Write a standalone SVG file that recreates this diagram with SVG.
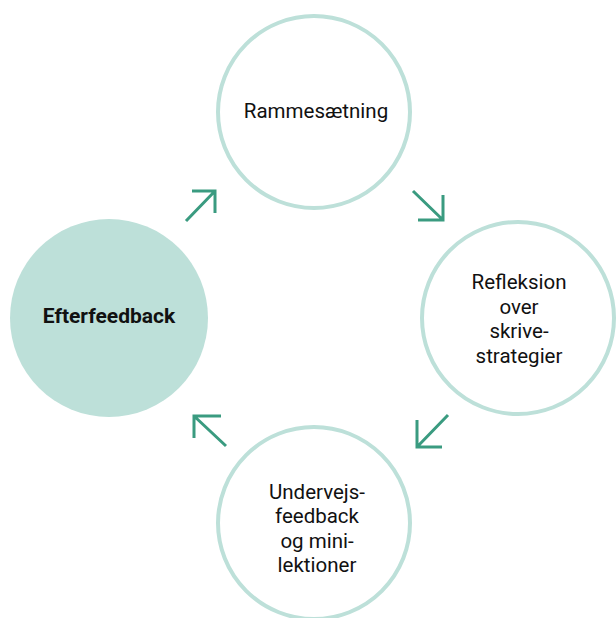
<svg xmlns="http://www.w3.org/2000/svg" width="616" height="618" viewBox="0 0 616 618">
<style>
.ring{fill:#ffffff;stroke:#bde0d9;stroke-width:4}
.filled{fill:#bde0d9;stroke:none}
.t{font-family:Roboto,"Noto Sans",sans-serif;font-size:20.5px;fill:#111;text-anchor:middle}
.b{font-family:Roboto,"Noto Sans",sans-serif;font-size:21px;font-weight:bold;fill:#111;text-anchor:middle}
.arr{fill:none;stroke:#3a9b80;stroke-width:3;stroke-linecap:butt;stroke-linejoin:miter}
</style>
<rect width="616" height="618" fill="#ffffff"/>
<g id="node-rammesaetning">
<circle class="ring" cx="314" cy="112" r="96"/>
<text class="t" x="316" y="118">Rammesætning</text>
</g>
<g id="node-refleksion">
<circle class="ring" cx="518" cy="318" r="96"/>
<text class="t" x="519" y="289">Refleksion</text>
<text class="t" x="519" y="313.5">over</text>
<text class="t" x="519" y="338">skrive-</text>
<text class="t" x="519" y="362.5">strategier</text>
</g>
<g id="node-undervejs">
<circle class="ring" cx="314" cy="523" r="96"/>
<text class="t" x="317" y="498.5">Undervejs-</text>
<text class="t" x="317" y="523">feedback</text>
<text class="t" x="317" y="547.5">og mini-</text>
<text class="t" x="317" y="572">lektioner</text>
</g>
<g id="node-efterfeedback">
<circle class="filled" cx="109" cy="318" r="99"/>
<text class="b" x="109" y="322.5">Efterfeedback</text>
</g>
<g id="connectors">
<path class="arr" d="M186 221 L215 191 M192 191 H215 V213"/>
<path class="arr" d="M413 191 L443 220 M443 195 V220 H418"/>
<path class="arr" d="M448 415 L417 447 M417 420 V447 H442"/>
<path class="arr" d="M226 446 L194 416 M221 416 H194 V438"/>
</g>
</svg>
